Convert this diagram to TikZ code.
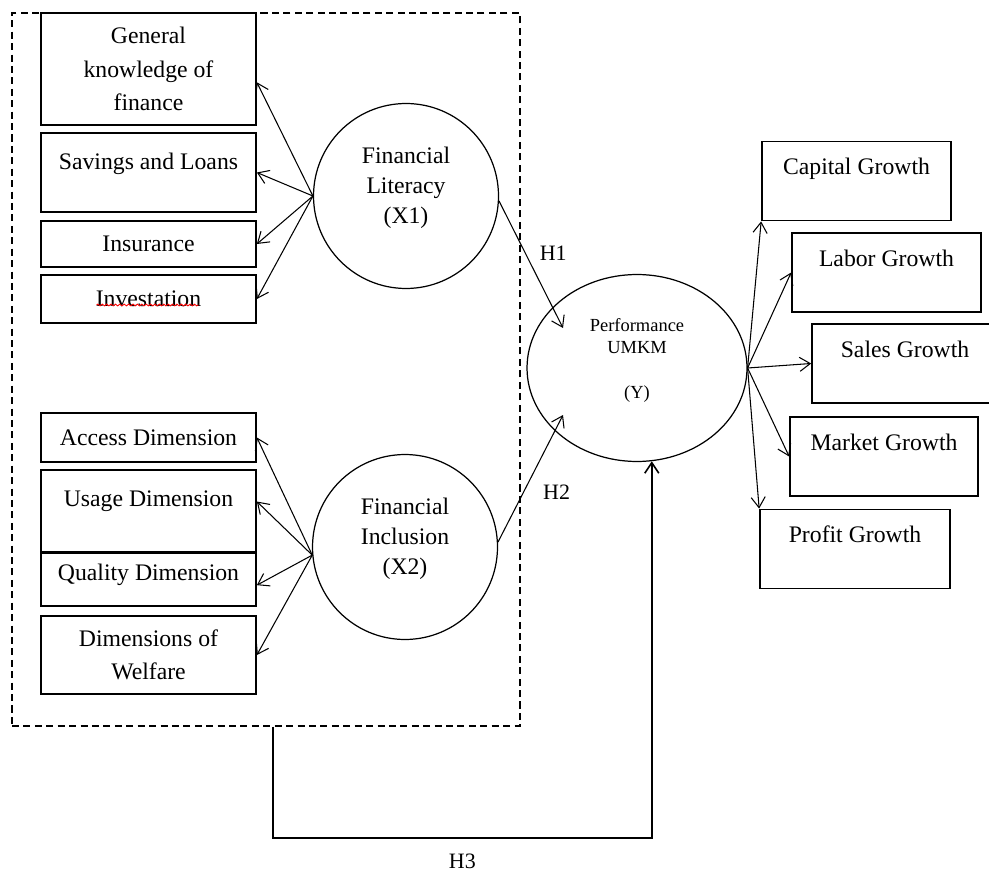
\documentclass[tikz,border=0pt]{standalone}
\usepackage{fontspec}
\setmainfont{Liberation Serif}
\usetikzlibrary{shapes.geometric,arrows.meta,decorations.pathmorphing}

\tikzstyle{ind} = [rectangle, draw=black, line width=1pt, minimum width=4.3cm, inner sep=0pt, align=center, font=\fontsize{13.5}{19}\selectfont]
\tikzstyle{gro} = [rectangle, draw=black, line width=1pt, minimum width=3.78cm, inner sep=0pt, text height=19pt, text depth=26pt, font=\fontsize{13.5}{19}\selectfont]
\tikzstyle{lat} = [circle, draw=black, line width=.7pt, minimum size=3.7cm, inner sep=0pt, align=center, text depth=12pt, font=\fontsize{13.5}{17}\selectfont]
\tikzstyle{hyp} = [inner sep=0pt, font=\fontsize{12.5}{15}\selectfont]

\begin{document}
\begin{tikzpicture}[x=0.02cm, y=-0.02cm, >={Straight Barb[length=6pt,width=8pt]}, semithick]
\clip (0,0) rectangle (989,874);

\node[draw, dash pattern=on 4pt off 2.5pt, line width=.8pt, minimum width=10.16cm, minimum height=14.26cm] (blk) at (266,369.5) {};

\node[ind, minimum height=2.24cm] (gen) at (148.5,69) {General\\knowledge of\\finance};
\node[ind, text height=21pt, text depth=24pt] (sav) at (148.5,172.5) {Savings and Loans};
\node[ind, minimum height=0.92cm] (ins) at (148.5,244) {Insurance};
\node[ind, minimum height=0.96cm] (inv) at (148.5,299) {Investation};
\draw[red, line width=.5pt, decorate, decoration={snake, amplitude=.5pt, segment length=2.5pt}]
  ([shift={(-52,6)}]inv.center) -- ([shift={(50,6)}]inv.center);

\node[ind, minimum height=0.98cm] (acc) at (148.5,437.5) {Access Dimension};
\node[ind, text height=21pt, text depth=25.7pt] (usa) at (148.5,511) {Usage Dimension};
\node[ind, text height=15.5pt, text depth=14.7pt] (qua) at (148.5,579.5) {Quality Dimension};
\node[ind, minimum height=1.56cm] (wel) at (148.5,655) {Dimensions of\\Welfare};

\node[lat] (lit) at (406,196) {Financial\\Literacy\\(X1)};
\node[lat] (inc) at (405,547) {Financial\\Inclusion\\(X2)};

\node[ellipse, draw=black, line width=.7pt, minimum width=4.4cm, minimum height=3.74cm, inner sep=0pt, align=center, text depth=11pt, font=\fontsize{10.5}{12.5}\selectfont] (perf) at (637,368) {Performance\\UMKM\\[13pt](Y)};

\node[gro] (cap) at (856.5,181) {Capital Growth};
\node[gro] (lab) at (886.5,272.5) {Labor Growth};
\node[gro, minimum width=3.72cm] (sal) at (905,363.5) {Sales Growth};
\node[gro, minimum width=3.76cm] (mar) at (884,456.5) {Market Growth};
\node[gro, minimum width=3.8cm] (pro) at (855,549) {Profit Growth};

\coordinate (h3c) at (273,838);

\path[->]
  (lit.west) edge (gen.-7)
  (lit.west) edge (sav.east)
  (lit.west) edge (ins.east)
  (lit.west) edge (inv.east)
  (inc.185) edge (acc.east)
  (inc.185) edge (usa.5)
  (inc.185) edge (qua.-3)
  (inc.185) edge (wel.east)
  (perf.east) edge (cap.south west)
  (perf.east) edge (lab.west)
  (perf.east) edge (sal.west)
  (perf.east) edge (mar.west)
  (perf.east) edge (pro.north west)
  (lit.-3) edge node[hyp, pos=.41, right=8pt] {H1} ([shift={(-74,-40)}]perf.center)
  (inc.3) edge node[hyp, pos=.39, right=11pt] {H2} ([shift={(-74,47)}]perf.center)
  ;

\draw[->, line width=.9pt] (blk.south -| h3c) -- (h3c) -| node[hyp, pos=.25, below=8.5pt] {H3} (perf.-81);

\end{tikzpicture}
\end{document}
